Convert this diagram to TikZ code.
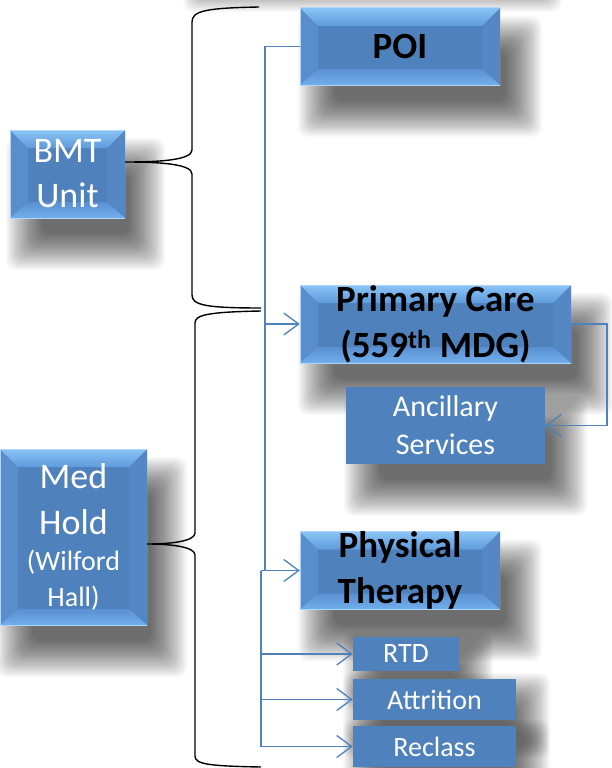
\documentclass[tikz,border=0pt]{standalone}
\usepackage{fontspec}
\setmainfont{Carlito}
\usetikzlibrary{arrows.meta}
\pgfdeclarelayer{back}
\pgfdeclarelayer{bg}
\pgfsetlayers{back,bg,main}
\definecolor{base}{HTML}{4F81BD}
\definecolor{bevtop}{HTML}{8AC4F6}
\definecolor{bevtopb}{HTML}{5F9ADB}
\definecolor{bevbot}{HTML}{72AEEC}
\definecolor{bevbotb}{HTML}{5A90D2}
\definecolor{bevleft}{HTML}{5A8DCC}
\definecolor{bevright}{HTML}{5587C4}
% soft drop shadow of a node: #1 node, #2 x offset, #3 y offset (down)
\newcommand{\softshadow}[3]{%
  \foreach \s in {-14,-13,...,22}{%
    \fill[black,opacity=0.021,rounded corners=10pt]
      ([xshift={#2-(\s)*1pt},yshift={-#3+(\s)*1pt}]#1.north west) rectangle
      ([xshift={#2+(\s)*1pt},yshift={-#3-(\s)*1pt}]#1.south east);}}
\begin{document}
\begin{tikzpicture}[x=1pt,y=-1pt,
  boxbase/.style={rectangle,inner sep=0pt,fill=base,draw=none,align=center},
  bevel/.style={boxbase,path picture={
     \coordinate (nw) at (path picture bounding box.north west);
     \coordinate (ne) at (path picture bounding box.north east);
     \coordinate (sw) at (path picture bounding box.south west);
     \coordinate (se) at (path picture bounding box.south east);
     \fill[bevleft] (nw) -- ([xshift=18pt,yshift=-18pt]nw) -- ([xshift=18pt,yshift=16pt]sw) -- (sw) -- cycle;
     \fill[bevright] (ne) -- ([xshift=-18pt,yshift=-18pt]ne) -- ([xshift=-18pt,yshift=16pt]se) -- (se) -- cycle;
     \shade[top color=bevtop,bottom color=bevtopb] (nw) -- (ne) -- ([xshift=-18pt,yshift=-18pt]ne) -- ([xshift=18pt,yshift=-18pt]nw) -- cycle;
     \shade[top color=bevbotb,bottom color=bevbot] (sw) -- (se) -- ([xshift=-18pt,yshift=16pt]se) -- ([xshift=18pt,yshift=16pt]sw) -- cycle;
     \draw[bevtop!70!white,line width=1pt] (sw) -- (nw) -- (ne) -- (se) -- cycle;
  }},
  bigw/.style={text=white,font=\fontsize{36}{45}\selectfont},
  bigb/.style={text=black,font=\bfseries\fontsize{37}{46}\selectfont},
  midw/.style={text=white,font=\fontsize{30}{38}\selectfont},
  smallw/.style={text=white,font=\fontsize{28}{34}\selectfont},
  brace/.style={draw=black,line width=1.4pt},
  conn/.style={draw=base,line width=1.3pt},
  arr/.style={conn,-{Straight Barb[length=15pt,width=22pt,line width=1.3pt]}}
]
\useasboundingbox (0,0) rectangle (611,768);
\begin{pgfonlayer}{back}
\fill[white] (0,0) rectangle (611,768);
\end{pgfonlayer}

% boxes
\node[bevel,bigw,minimum width=115pt,minimum height=88pt] (bmt) at (67.5,174) {BMT\\Unit};
\node[bevel,bigb,minimum width=200pt,minimum height=77pt] (poi) at (400,46.5) {POI};
\node[bevel,bigb,minimum width=271pt,minimum height=78pt] (pc) at (435.5,324) {Primary Care\\(559\textsuperscript{th} MDG)};
\node[boxbase,midw,minimum width=199pt,minimum height=77pt] (as) at (445.5,425.5) {Ancillary\\Services};
\node[bevel,text=white,minimum width=147pt,minimum height=176pt] (mh) at (73.5,537)
  {\parbox{140pt}{\centering\fontsize{36}{46}\selectfont Med\\Hold\par
   \fontsize{28}{36}\selectfont (Wilford\\Hall)\par}};
\node[bevel,bigb,minimum width=200pt,minimum height=77pt] (pt) at (400,570.5) {Physical\\Therapy};
\node[boxbase,smallw,minimum width=106pt,minimum height=34pt] (rtd) at (406,654) {RTD};
\node[boxbase,smallw,minimum width=163pt,minimum height=41pt] (att) at (434.5,699.5) {Attrition};
\node[boxbase,smallw,minimum width=163pt,minimum height=41pt] (rec) at (434.5,746.5) {Reclass};

% shadows
\begin{pgfonlayer}{bg}
\softshadow{bmt}{18pt}{30pt}
\softshadow{poi}{20pt}{30pt}
\softshadow{pc}{20pt}{30pt}
\softshadow{as}{20pt}{30pt}
\softshadow{mh}{18pt}{30pt}
\softshadow{pt}{20pt}{30pt}
\softshadow{rtd}{12pt}{16pt}
\softshadow{att}{12pt}{16pt}
\softshadow{rec}{12pt}{16pt}
\foreach \s in {-14,-13,...,22}{%
  \fill[black,opacity=0.021,rounded corners=10pt] ({205-\s},{-80-\s}) rectangle ({540+\s},{-10+\s});}
\end{pgfonlayer}

% braces
\draw[brace] (259,7) .. controls (205,8) and (192,11) .. (192,22) -- (192,150)
  .. controls (192,160) and (160,162) .. (bmt.east |- 0,162)
  .. controls (160,162) and (192,164) .. (192,174) -- (192,295)
  .. controls (192,305) and (205,308) .. (261,308);
\draw[brace] (261,311) .. controls (207,312) and (195,315) .. (195,323) -- (195,533)
  .. controls (195,541) and (172,544) .. (mh.east |- 0,544)
  .. controls (172,544) and (195,547) .. (195,555) -- (195,756)
  .. controls (195,764) and (207,766) .. (261,767);

% connectors
\coordinate (top) at (265,46.5);
\coordinate (j1) at (265,570.5);
\coordinate (j2) at (261,570.5);
\coordinate (bot) at (261,746.5);
\draw[conn] (poi.west) -- (top) -- (j1);
\draw[arr] (top |- pc.west) -- (pc.west);
\draw[arr] (j2) -- (pt.west);
\draw[conn] (j2) -- (bot);
\draw[arr] (j2 |- rtd.west) -- (rtd.west);
\draw[arr] (j2 |- att.west) -- (att.west);
\draw[arr] (bot) -- (rec.west);
\coordinate (rr) at (607,324);
\draw[arr] (pc.east) -- (rr) |- (as.east);
\end{tikzpicture}
\end{document}
